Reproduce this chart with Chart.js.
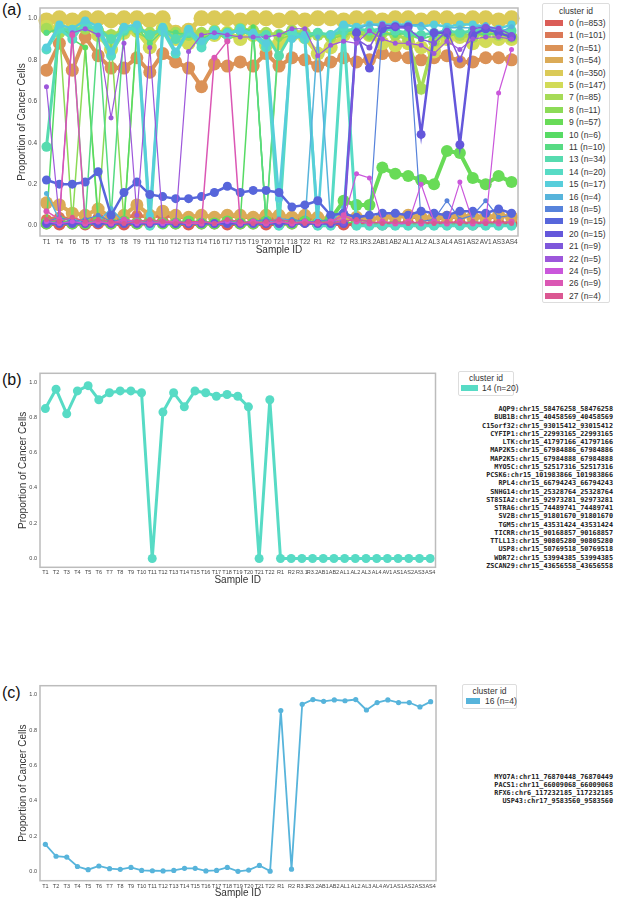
<!DOCTYPE html>
<html>
<head>
<meta charset="utf-8">
<script src="https://cdn.jsdelivr.net/npm/chart.js@4.4.1/dist/chart.umd.min.js"></script>
<style>
  body { margin: 0; width: 618px; height: 900px; background: #fff; position: relative; overflow: hidden;
         font-family: 'Liberation Sans', Arial, sans-serif; color: #333; }
  canvas { position: absolute; left: 0; }
  .tag { position: absolute; left: 2px; font-size: 16px; color: #111; }
  .legend { position: absolute; border: 1px solid #ddd; border-radius: 2px; background: #fff; font-size: 8.5px; color: #333; }
  .legend .ttl { position: absolute; left: 0; right: 0; text-align: center; line-height: 10px; }
  .legend .item { position: absolute; white-space: nowrap; line-height: 10px; }
  .legend .sw { position: absolute; height: 6px; }
  .genes { position: absolute; right: 5px; text-align: right; font-family: 'DejaVu Sans Mono', monospace;
           font-weight: bold; font-size: 6.8px; color: #222; white-space: pre; }
</style>
</head>
<body>
<div class="tag" style="top:1px">(a)</div>
<div class="tag" style="top:371px">(b)</div>
<div class="tag" style="top:684px">(c)</div>

<canvas id="chartA" width="540" height="262" style="top:0"></canvas>
<canvas id="chartB" width="440" height="230" style="top:360px"></canvas>
<canvas id="chartC" width="440" height="228" style="top:672px"></canvas>

<div id="legA" class="legend" style="left:542px;top:3px;width:66px;height:298px"></div>
<div id="legB" class="legend" style="left:458px;top:371px;width:54px;height:23px"></div>
<div id="legC" class="legend" style="left:462px;top:684px;width:53px;height:23px"></div>

<div id="genesB" class="genes" style="top:405px;line-height:8.25px"></div>
<div id="genesC" class="genes" style="top:772.5px;line-height:8.1px"></div>

<script>
// ---- data ----
const yTicks = [0, 0.2, 0.4, 0.6, 0.8, 1.0];

// sample order used in panel (a)
const samplesA = ['T1','T4','T6','T5','T7','T3','T8','T9','T11','T10','T12','T13','T14','T16','T17','T15','T19','T20','T21','T18','T22',
                  'R1','R2','T2','R3.1','R3.2','AB1','AB2','AL1','AL2','AL3','AL4','AS1','AS2','AV1','AS3','AS4'];
// sample order used in panels (b) and (c)
const samplesB = ['T1','T2','T3','T4','T5','T6','T7','T8','T9','T10','T11','T12','T13','T14','T15','T16','T17','T18','T19','T20','T21','T22',
                  'R1','R2','R3.1','R3.2','AB1','AB2','AL1','AL2','AL3','AL4','AV1','AS1','AS2','AS3','AS4'];

const clusterIds = [0, 1, 2, 3, 4, 5, 7, 8, 9, 10, 11, 13, 14, 15, 16, 18, 19, 20, 21, 22, 24, 26, 27];
const clusterN   = [853, 101, 51, 54, 350, 147, 85, 11, 57, 6, 10, 34, 20, 17, 4, 5, 15, 15, 9, 5, 5, 9, 4];

// cluster 14 and 16, in samplesB order (panels b and c)
const c14 = [0.85,0.96,0.82,0.95,0.98,0.90,0.94,0.95,0.95,0.94,0.00,0.83,0.94,0.86,0.95,0.94,0.92,0.93,0.92,0.86,0.00,0.90,
             0,0,0,0,0,0,0,0,0,0,0,0,0,0,0];
const c16 = [0.155,0.088,0.083,0.030,0.012,0.033,0.018,0.014,0.025,0.008,0.006,0.005,0.008,0.020,0.020,0.005,0.008,0.025,0.003,0.010,0.036,0.004,
             0.91,0.015,0.945,0.972,0.962,0.970,0.965,0.972,0.913,0.955,0.970,0.955,0.955,0.930,0.960];

// other clusters, in samplesA order (panel a)
const c0  = [0.01,0.005,0.01,0.005,0.01,0.01,0.005,0.01,0.01,0.02,0.01,0.005,0.01,0.01,0.005,0.01,0.01,0.005,0.01,0.01,0.02,0.01,0.01,0.005,0.01,0.01,0.005,0.01,0.01,0.005,0.01,0.01,0.01,0.005,0.01,0.01,0.01];
const c1  = [0.03,0.04,0.03,0.02,0.04,0.03,0.04,0.05,0.04,0.05,0.04,0.04,0.05,0.04,0.05,0.04,0.04,0.03,0.04,0.03,0.04,0.03,0.02,0.03,0.04,0.03,0.04,0.05,0.04,0.04,0.03,0.04,0.04,0.05,0.04,0.04,0.05];
const c2  = [0.75,0.88,0.75,0.91,0.82,0.76,0.76,0.81,0.74,0.83,0.79,0.76,0.67,0.78,0.77,0.79,0.77,0.83,0.77,0.81,0.80,0.77,0.79,0.81,0.79,0.80,0.83,0.82,0.81,0.80,0.81,0.82,0.79,0.79,0.81,0.81,0.80];
const c3  = [0.11,0.10,0.06,0.05,0.08,0.04,0.05,0.10,0.05,0.07,0.05,0.04,0.05,0.04,0.05,0.05,0.04,0.05,0.05,0.04,0.05,0.04,0.03,0.04,0.04,0.03,0.04,0.04,0.05,0.04,0.04,0.04,0.05,0.04,0.04,0.05,0.04];
const c4  = [0.99,1.0,0.99,1.0,1.0,0.99,1.0,1.0,0.99,1.0,0.93,0.94,1.0,1.0,1.0,0.99,1.0,1.0,0.99,1.0,0.99,1.0,1.0,0.99,1.0,1.0,0.99,1.0,1.0,0.99,1.0,1.0,0.99,1.0,1.0,0.99,1.0];
const c5  = [0.96,0.95,0.94,0.96,0.92,0.85,0.93,0.94,0.86,0.95,0.90,0.88,0.90,0.92,0.93,0.90,0.92,0.87,0.88,0.92,0.91,0.83,0.86,0.92,0.93,0.92,0.88,0.87,0.88,0.86,0.84,0.90,0.91,0.88,0.89,0.90,0.90];
const c7  = [0.95,0.93,0.94,0.95,0.94,0.92,0.94,0.95,0.93,0.94,0.93,0.92,0.93,0.94,0.93,0.95,0.94,0.93,0.92,0.94,0.93,0.92,0.91,0.93,0.94,0.92,0.93,0.92,0.90,0.66,0.89,0.93,0.92,0.91,0.93,0.92,0.91];
const c8  = [0.93,0.95,0.02,0.86,0.04,0.90,0.02,0.93,0.90,0.95,0.93,0.92,0.90,0.93,0.90,0.92,0.95,0.02,0.90,0.92,0.90,0.93,0.90,0.92,0.93,0.91,0.92,0.93,0.92,0.90,0.92,0.91,0.93,0.92,0.93,0.92,0.93];
const c9  = [0.01,0.02,0.01,0.01,0.02,0.01,0.02,0.01,0.02,0.01,0.01,0.02,0.01,0.01,0.02,0.01,0.01,0.02,0.01,0.01,0.02,0.01,0.03,0.12,0.10,0.10,0.28,0.25,0.24,0.22,0.20,0.36,0.35,0.23,0.20,0.24,0.21];
const c10 = [0.01,0.97,0.90,0.86,0.02,0.01,0.01,0.95,0.01,0.02,0.01,0.01,0.02,0.01,0.01,0.02,0.96,0.01,0.02,0.01,0.01,0.02,0.01,0.01,0.02,0.01,0.01,0.02,0.01,0.01,0.02,0.01,0.01,0.02,0.01,0.01,0.02];
const c11 = [0.93,0.95,0.92,0.02,0.95,0.04,0.95,0.96,0.88,0.94,0.93,0.92,0.90,0.93,0.92,0.95,0.94,0.02,0.93,0.92,0.90,0.93,0.92,0.93,0.95,0.94,0.93,0.92,0.93,0.90,0.92,0.93,0.94,0.93,0.92,0.93,0.94];
const c13 = [0.38,0.95,0.94,0.96,0.95,0.90,0.94,0.96,0.92,0.95,0.90,0.93,0.88,0.92,0.93,0.94,0.92,0.92,0.82,0.93,0.92,0.93,0.92,0.94,0.95,0.94,0.95,0.94,0.93,0.92,0.93,0.94,0.93,0.94,0.95,0.94,0.94];
const c15 = [0.86,0.97,0.95,0.99,0.96,0.84,0.96,0.97,0.05,0.96,0.84,0.95,0.89,0.92,0.93,0.94,0.93,0.88,0.13,0.90,0.92,0.02,0.92,0.97,0.96,0.97,0.97,0.97,0.97,0.96,0.97,0.96,0.97,0.97,0.96,0.95,0.97];
const c18 = [0.02,0.04,0.02,0.03,0.05,0.02,0.03,0.02,0.01,0.02,0.01,0.02,0.02,0.01,0.02,0.01,0.02,0.03,0.02,0.03,0.02,0.02,0.03,0.02,0.03,0.02,0.96,0.95,0.96,0.02,0.03,0.12,0.03,0.05,0.12,0.04,0.05];
const c19 = [0.22,0.20,0.20,0.21,0.26,0.05,0.16,0.21,0.15,0.14,0.13,0.13,0.14,0.16,0.19,0.16,0.17,0.17,0.16,0.09,0.10,0.12,0.05,0.06,0.04,0.05,0.06,0.06,0.05,0.07,0.06,0.05,0.07,0.07,0.06,0.08,0.06];
const c20 = [0.01,0.01,0.01,0.01,0.01,0.01,0.01,0.01,0.01,0.01,0.01,0.01,0.01,0.01,0.01,0.01,0.01,0.01,0.01,0.01,0.01,0.01,0.01,0.01,0.93,0.76,0.95,0.96,0.96,0.44,0.93,0.93,0.39,0.92,0.95,0.93,0.91];
const c21 = [0.02,0.01,0.02,0.01,0.02,0.01,0.02,0.01,0.02,0.01,0.02,0.01,0.02,0.01,0.02,0.01,0.02,0.01,0.02,0.01,0.02,0.01,0.02,0.01,0.90,0.86,0.97,0.96,0.95,0.90,0.88,0.94,0.80,0.95,0.96,0.95,0.92];
const c22 = [0.67,0.03,0.93,0.95,0.92,0.52,0.88,0.05,0.86,0.01,0.01,0.84,0.92,0.93,0.92,0.91,0.91,0.91,0.92,0.95,0.95,0.82,0.87,0.89,0.88,0.94,0.90,0.88,0.88,0.87,0.83,0.89,0.85,0.90,0.91,0.91,0.90];
const c24 = [0.02,0.01,0.02,0.01,0.02,0.01,0.02,0.01,0.02,0.01,0.02,0.01,0.02,0.01,0.02,0.01,0.02,0.01,0.02,0.01,0.02,0.01,0.02,0.03,0.25,0.23,0.02,0.01,0.01,0.20,0.02,0.01,0.21,0.02,0.01,0.64,0.85];
const c26 = [0.07,0.03,0.92,0.01,0.02,0.01,0.03,0.02,0.01,0.02,0.02,0.01,0.01,0.81,0.89,0.01,0.02,0.01,0.02,0.01,0.02,0.01,0.02,0.05,0.02,0.01,0.02,0.01,0.02,0.01,0.02,0.01,0.02,0.01,0.02,0.01,0.02];
const c27 = [0.03,0.02,0.04,0.02,0.03,0.02,0.01,0.02,0.03,0.02,0.01,0.02,0.02,0.01,0.03,0.02,0.01,0.02,0.03,0.02,0.01,0.02,0.01,0.02,0.03,0.02,0.01,0.02,0.01,0.02,0.01,0.02,0.01,0.02,0.01,0.02,0.01];

const genesB = ['AQP9:chr15_58476258_58476258','BUB1B:chr15_40458569_40458569','C15orf32:chr15_93015412_93015412',
  'CYFIP1:chr15_22993165_22993165','LTK:chr15_41797166_41797166','MAP2K5:chr15_67984886_67984886',
  'MAP2K5:chr15_67984888_67984888','MYO5C:chr15_52517316_52517316','PCSK6:chr15_101983866_101983866',
  'RPL4:chr15_66794243_66794243','SNHG14:chr15_25328764_25328764','ST8SIA2:chr15_92973281_92973281',
  'STRA6:chr15_74489741_74489741','SV2B:chr15_91801670_91801670','TGM5:chr15_43531424_43531424',
  'TICRR:chr15_90168857_90168857','TTLL13:chr15_90805280_90805280','USP8:chr15_50769518_50769518',
  'WDR72:chr15_53994385_53994385','ZSCAN29:chr15_43656558_43656558'];
const genesC = ['MYO7A:chr11_76870448_76870449','PACS1:chr11_66009068_66009068',
  'RFX6:chr6_117232185_117232185','USP43:chr17_9583560_9583560'];

// ---- styles ----
// hue per cluster (seaborn hls-like palette, l=.6 s=.65)
const hues   = { 0:3, 1:15, 2:27, 3:38, 4:52, 5:64, 7:84, 8:96, 9:112, 10:126, 11:140, 13:160, 14:170, 15:186, 16:198,
                 18:220, 19:233, 20:246, 21:258, 22:272, 24:292, 26:318, 27:333 };
const radius = { 0:6, 1:5.5, 2:6.5, 3:6.5, 4:8, 5:7, 7:6, 8:3, 9:6, 10:2.5, 11:3, 13:5, 14:5, 15:4, 16:2.5,
                 18:2.5, 19:4.5, 20:4.5, 21:3, 22:2.5, 24:2.5, 26:3, 27:2.5 };
const lineW  = { 0:4, 1:3.5, 2:4, 3:4, 4:5, 5:4.5, 7:3.5, 8:1.5, 9:4, 10:1.5, 11:1.5, 13:3, 14:3, 15:2.5, 16:1.5,
                 18:1.2, 19:2.5, 20:2.5, 21:1.5, 22:1.2, 24:1.2, 26:1.5, 27:1.2 };
const colorOf = id => `hsl(${hues[id]}, 65%, 60%)`;

Chart.defaults.font.family = "'Liberation Sans', Arial, sans-serif";
Chart.defaults.color = '#444';

// re-order a samplesB series into samplesA order
const toA = vals => samplesA.map(s => vals[samplesB.indexOf(s)]);
const seriesA = { 0:c0, 1:c1, 2:c2, 3:c3, 4:c4, 5:c5, 7:c7, 8:c8, 9:c9, 10:c10, 11:c11, 13:c13, 14:toA(c14), 15:c15,
                  16:toA(c16), 18:c18, 19:c19, 20:c20, 21:c21, 22:c22, 24:c24, 26:c26, 27:c27 };

const framePlugin = {
  id: 'frame',
  afterDatasetsDraw(chart) {
    const { ctx, chartArea: a } = chart;
    ctx.save();
    ctx.strokeStyle = '#bcbcbc';
    ctx.lineWidth = 1.5;
    ctx.strokeRect(a.left, a.top, a.right - a.left, a.bottom - a.top);
    ctx.restore();
  }
};

function makeChart(id, labels, datasets, o) {
  return new Chart(document.getElementById(id), {
    type: 'line',
    data: { labels: labels, datasets: datasets },
    plugins: [framePlugin],
    options: {
      responsive: false,
      animation: false,
      layout: { padding: { left: 0, top: o.padTop, right: o.padRight, bottom: 0 } },
      plugins: { legend: { display: false }, tooltip: { enabled: false } },
      scales: {
        x: {
          offset: true,
          grid: { display: false, drawTicks: false },
          border: { display: false },
          ticks: { autoSkip: false, maxRotation: 0, minRotation: 0, padding: o.xPad, font: { size: o.tickSize }, color: '#444' },
          title: { display: true, text: 'Sample ID', color: '#333', font: { size: 10 }, padding: { top: 0, bottom: o.xTitlePad } },
          afterFit: s => { s.height = o.xHeight; }
        },
        y: {
          min: -0.05, max: 1.05,
          grid: { display: false, drawTicks: false },
          border: { display: false },
          afterBuildTicks: s => { s.ticks = yTicks.map(v => ({ value: v })); },
          ticks: { padding: 3, font: { size: o.tickSize }, color: '#444', callback: v => Number(v).toFixed(1) },
          title: { display: true, text: 'Proportion of Cancer Cells', color: '#333', font: { size: 10 }, padding: { top: o.yTitlePad, bottom: 0 } },
          afterFit: s => { s.width = 40; }
        }
      }
    }
  });
}

function lineSet(id, data, r, w, order) {
  const c = colorOf(id);
  return {
    label: id + ' (n=' + clusterN[clusterIds.indexOf(id)] + ')',
    data: data,
    borderColor: c, backgroundColor: c,
    borderWidth: w, pointRadius: r, pointBorderWidth: 0,
    pointBackgroundColor: c, tension: 0, order: order
  };
}

// panel (a): cluster 0 drawn first, last cluster on top
const dsA = clusterIds.map((id, i) => lineSet(id, seriesA[id], radius[id], lineW[id], clusterIds.length - i));
makeChart('chartA', samplesA, dsA, { padTop: 4, padRight: 22, xHeight: 26, xPad: 2, tickSize: 6.5, xTitlePad: 6, yTitlePad: 16 });

// panel (b): cluster 14
makeChart('chartB', samplesB, [lineSet(14, c14, 4.5, 3, 0)],
  { padTop: 13.3, padRight: 2, xHeight: 22.7, xPad: 2, tickSize: 5.5, xTitlePad: 4, yTitlePad: 17 });

// panel (c): cluster 16
makeChart('chartC', samplesB, [lineSet(16, c16, 2.6, 1.8, 0)],
  { padTop: 13.7, padRight: 2, xHeight: 19.3, xPad: 2, tickSize: 5.5, xTitlePad: 1, yTitlePad: 17 });

// ---- legends ----
function buildLegend(elId, ids, firstY, step, swX, swW, txtX, titleY) {
  const el = document.getElementById(elId);
  let html = `<div class="ttl" style="top:${titleY - 5}px">cluster id</div>`;
  ids.forEach((id, i) => {
    const y = firstY + i * step;
    const n = clusterN[clusterIds.indexOf(id)];
    html += `<div class="sw" style="left:${swX}px;width:${swW}px;top:${y - 3}px;background:${colorOf(id)}"></div>`;
    html += `<div class="item" style="left:${txtX}px;top:${y - 5}px">${id} (n=${n})</div>`;
  });
  el.innerHTML = html;
}
buildLegend('legA', clusterIds, 19, 12.4, 2, 18, 26, 7);
buildLegend('legB', [14], 16, 0, 2, 17, 23, 5.5);
buildLegend('legC', [16], 16, 0, 3, 14, 22, 5.5);

document.getElementById('genesB').textContent = genesB.join('\n');
document.getElementById('genesC').textContent = genesC.join('\n');
</script>
</body>
</html>
